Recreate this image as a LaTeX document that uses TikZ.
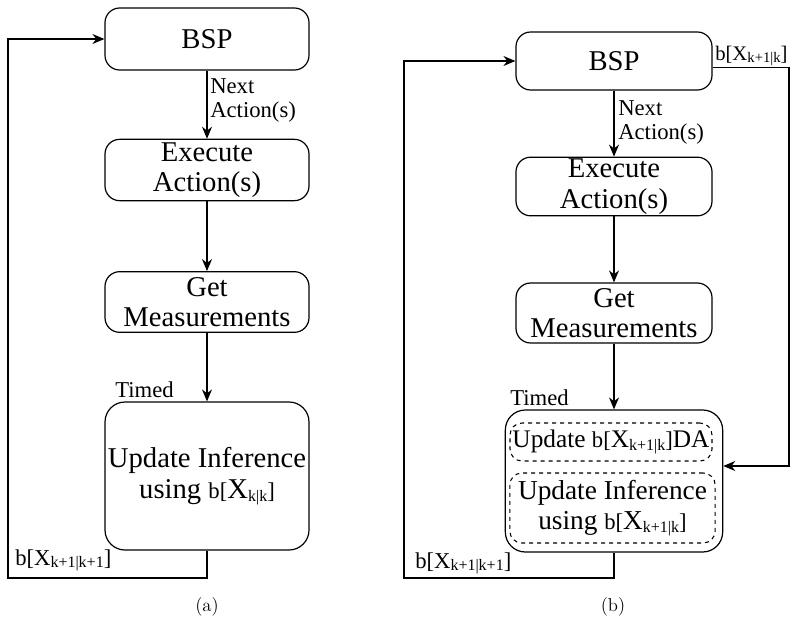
\documentclass[tikz,border=0pt]{standalone}
\usepackage{fontspec}
\setmainfont{Liberation Serif}
\newfontfamily\capfont{Latin Modern Roman}
\usetikzlibrary{arrows.meta}
\newcommand{\bel}[1]{{\fontsize{17}{18}\selectfont b[}X\raisebox{-0.25ex}{\fontsize{12}{12}\selectfont #1}{\fontsize{17}{18}\selectfont ]}}

\begin{document}
\begin{tikzpicture}[
            x=0.75pt, y=-0.75pt,
            box/.style={draw, line width=0.9pt, rounded corners=11pt, align=center,
                inner sep=0pt, font=\fontsize{21.5}{23}\selectfont},
            inbox/.style={box, dashed, line width=0.8pt, rounded corners=9pt},
            lbl/.style={inner sep=0pt, align=left, font=\fontsize{17}{18}\selectfont},
            flow/.style={line width=0.9pt, -{Stealth[length=9pt,width=7.5pt]}}
        ]
        \useasboundingbox (0,0) rectangle (792,632);

        \node[box, minimum width=153pt, minimum height=46.5pt] (bspa) at (207,39) {BSP};
        \node[box, minimum width=153pt, minimum height=46pt] (exea) at (207,170) {Execute\\Action(s)};
        \node[box, minimum width=153pt, minimum height=45.5pt] (meaa) at (207,302) {Get\\Measurements};
        \node[box, minimum width=153pt, minimum height=111pt, rounded corners=15pt] (upda) at (207,476)
            {Update Inference\\using \bel{k|k}};

        \node[box, minimum width=147pt, minimum height=43.5pt] (bspb) at (614,61) {BSP};
        \node[box, minimum width=147pt, minimum height=44pt] (exeb) at (614,186.5) {Execute\\Action(s)};
        \node[box, minimum width=147pt, minimum height=45pt] (meab) at (614,313) {Get\\Measurements};
        \node[box, minimum width=163pt, minimum height=106.5pt, rounded corners=15pt] (updb) at (614,481) {};
        \node[inbox, minimum width=151.5pt, minimum height=28.5pt, font=\fontsize{19}{21}\selectfont] (dab)
            at (611,442) {Update \bel{k+1|k}DA};
        \node[inbox, minimum width=154pt, minimum height=52.5pt, font=\fontsize{20.5}{23}\selectfont] (infb)
            at (612.5,508) {Update Inference\\using \bel{k+1|k}};

        \coordinate (loopa) at (8,578);
        \coordinate (loopb) at (404,578);
        \coordinate (sideb) at (789,466);

        \draw[flow] (bspa) -- (exea);
        \draw[flow] (exea) -- (meaa);
        \draw[flow] (meaa) -- (upda);
        \draw[flow] (upda.south) |- (loopa) |- (bspa.west);

        \draw[flow] (bspb) -- (exeb);
        \draw[flow] (exeb) -- (meab);
        \draw[flow] (meab) -- (updb);
        \draw[flow] (updb.south) |- (loopb) |- (bspb.west);
        \draw[flow] ([yshift=-5pt]bspb.east) -| (sideb) -- (sideb -| updb.east);

        \node[lbl, anchor=north west] (nxa) at (210,78) {Next\\Action(s)};
        \node[lbl, anchor=base west] (tia) at (115,397) {Timed};
        \node[lbl, anchor=base west] (fba) at (15,565) {\bel{k+1|k+1}};

        \node[lbl, anchor=north west] (nxb) at (618,100) {Next\\Action(s)};
        \node[lbl, anchor=base west] (tib) at (510,405) {Timed};
        \node[lbl, anchor=base west] (fbb) at (415,568) {\bel{k+1|k+1}};
        \node[lbl, anchor=base west, font=\fontsize{15.5}{16}\selectfont] (prb) at (715,60)
            {b[X\raisebox{-0.25ex}{\fontsize{11}{11}\selectfont k+1|k}]};

        \node[font=\capfont\fontsize{14}{16}\selectfont] (capa) at (207,607) {(a)};
        \node[font=\capfont\fontsize{14}{16}\selectfont] (capb) at (613,607) {(b)};
    \end{tikzpicture}
\end{document}
